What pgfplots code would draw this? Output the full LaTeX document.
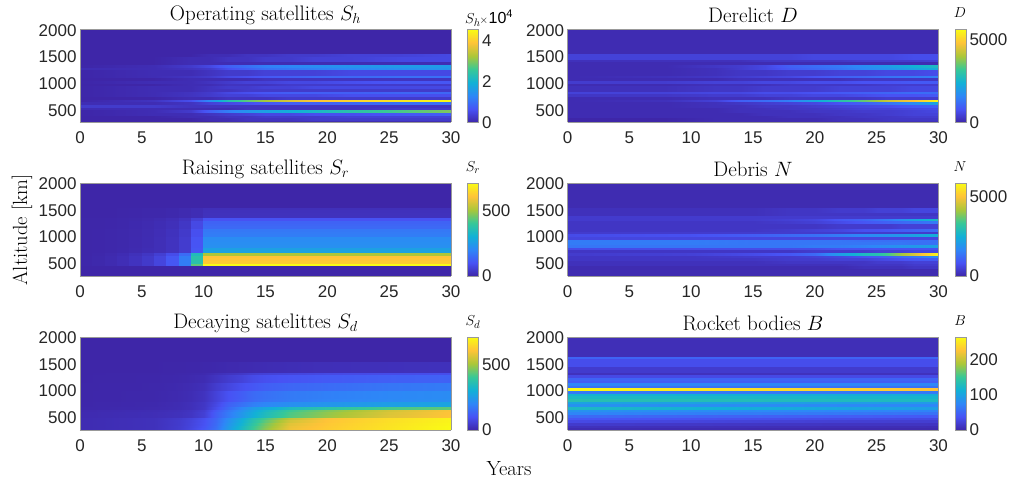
\documentclass[border=0pt]{standalone}
\usepackage{pgfplots}
\pgfplotsset{compat=1.18}
\usepackage{fontspec}
\newfontfamily\helv{Liberation Sans}
\pgfplotsset{
 colormap={parula}{rgb=(0.2422,0.1504,0.6603) rgb=(0.2810,0.3228,0.9579) rgb=(0.1786,0.5289,0.9682) rgb=(0.0689,0.6948,0.8394) rgb=(0.2161,0.7843,0.5923) rgb=(0.6720,0.7793,0.2227) rgb=(0.9970,0.7659,0.2199) rgb=(0.9769,0.9839,0.0805)},
 hm/.style={scale only axis,width=371pt,height=93pt,xmin=0,xmax=30,ymin=250,ymax=2000,anchor=south west,view={0}{90},
  xtick={0,5,...,30},ytick={500,1000,1500,2000},axis line style={draw=black!40,line width=.5pt},
  major tick length=0pt,tick label style={font=\fontsize{17}{17}\helv,text=black!85},
  /pgf/number format/assume math mode=true,/pgf/number format/1000 sep={},
  title style={font=\fontsize{21}{21}\selectfont,anchor=center,at={(0.5,1)},yshift=8pt},xticklabel style={yshift=-6pt},yticklabel style={yshift=-1pt},
  axis on top,colormap name=parula,
  colorbar,colorbar style={at={(1.0445,1)},anchor=north west,width=11pt,scale only axis,
    ymin=0,axis line style={draw=black!40},major tick length=0pt,
    tick label style={font=\fontsize{17}{17}\helv,text=black!85},
    /pgf/number format/assume math mode=true,/pgf/number format/1000 sep={},scaled ticks=false}},
}
% one line of data = one 50 km altitude band (250-300 first), one number per time column; each band is given two mesh rows
\newcommand\B[1]{\expandafter\def\expandafter\acc\expandafter{\acc#1#1}}
\def\ci#1{\numexpr\coordindex-#1*((2*\coordindex-#1+1)/(2*#1))\relax}
\def\hmplotB#1#2#3{\addplot3[surf,shader=interp,mesh/rows=70,mesh/cols=#2,point meta=explicit]
 table[row sep=crcr,header=false,x expr={\tT},y expr={\the\numexpr250+50*((2*((2*\coordindex-#2+1)/(2*#2))+1)/4)\relax},z expr={0},meta expr={\thisrowno{0}*#3}] {#1};}
\def\hmplot#1#2{\expandafter\hmplotB\expandafter{\acc}{#1}{#2}}
\def\lab#1#2#3{\node[anchor=center,font=\fontsize{15}{15}\selectfont] at (#1,#2) {#3};}
\begin{document}
\begin{tikzpicture}[x=1pt,y=1pt]
\path[use as bounding box] (0,0) rectangle (1010,485);
% Operating satellites
\begin{axis}[hm,at={(80pt,362.5pt)},title={Operating satellites $S_h$},point meta min=0,point meta max=45400,
 colorbar style={ytick={0,20000,40000},yticklabels={0,2,4}}]
\def\tT{\ifcase\ci{12} 0\or 6\or 9\or 10.5\or 12\or 13.5\or 15\or 17\or 19\or 22\or 26\or 30\fi}
\def\acc{}
\B{0\\0\\0\\0\\1\\1\\1\\1\\1\\1\\1\\1\\}
\B{0\\0\\0\\1\\1\\2\\2\\2\\3\\3\\3\\3\\}
\B{0\\0\\1\\1\\2\\2\\3\\3\\3\\4\\4\\4\\}
\B{0\\1\\1\\2\\3\\4\\5\\5\\6\\6\\7\\8\\}
\B{0\\1\\3\\8\\12\\15\\17\\19\\21\\24\\27\\30\\}
\B{1\\1\\1\\1\\1\\2\\2\\2\\2\\2\\3\\3\\}
\B{3\\3\\2\\2\\2\\2\\2\\2\\2\\2\\2\\2\\}
\B{1\\1\\2\\4\\5\\6\\7\\8\\8\\9\\10\\10\\}
\B{0\\2\\6\\14\\23\\28\\32\\36\\39\\41\\43\\45.4\\}
\B{0\\0\\1\\1\\2\\2\\2\\3\\3\\3\\3\\3\\}
\B{0\\1\\2\\3\\4\\4\\5\\5\\5\\6\\6\\6\\}
\B{0\\1\\2\\3\\5\\6\\7\\8\\8\\8\\9\\9\\}
\B{0\\1\\1\\2\\2\\3\\3\\3\\3\\3\\3\\3\\}
\B{0\\1\\1\\2\\3\\3\\4\\4\\5\\5\\5\\5\\}
\B{0\\0\\1\\1\\2\\2\\2\\3\\3\\3\\3\\3\\}
\B{0\\1\\1\\2\\3\\4\\4\\5\\5\\6\\7\\7\\}
\B{0\\0\\1\\1\\1\\1\\2\\2\\2\\2\\2\\2\\}
\B{0\\1\\2\\3\\5\\6\\7\\8\\9\\9\\10\\10\\}
\B{0\\1\\1\\2\\3\\3\\4\\4\\4\\5\\5\\5\\}
\B{0\\1\\1\\2\\3\\3\\4\\4\\4\\5\\5\\5\\}
\B{1\\1\\2\\3\\6\\8\\10\\11\\12\\13\\14\\15\\}
\B{0\\1\\3\\5\\8\\10\\12\\13\\14\\15\\16\\16\\}
\B{0\\0\\1\\1\\1\\1\\1\\1\\1\\1\\1\\1\\}
\B{0\\0\\1\\1\\2\\2\\3\\3\\4\\4\\5\\5\\}
\B{0\\0\\1\\1\\2\\2\\3\\3\\4\\4\\5\\5\\}
\B{0\\0\\0\\1\\1\\2\\2\\3\\3\\4\\4\\5\\}
\B{0\\0\\0\\0\\0\\0\\0\\0\\0\\0\\0\\0\\}
\B{0\\0\\0\\0\\0\\0\\0\\0\\0\\0\\0\\0\\}
\B{0\\0\\0\\0\\0\\0\\0\\0\\0\\0\\0\\0\\}
\B{0\\0\\0\\0\\0\\0\\0\\0\\0\\0\\0\\0\\}
\B{0\\0\\0\\0\\0\\0\\0\\0\\0\\0\\0\\0\\}
\B{0\\0\\0\\0\\0\\0\\0\\0\\0\\0\\0\\0\\}
\B{0\\0\\0\\0\\0\\0\\0\\0\\0\\0\\0\\0\\}
\B{0\\0\\0\\0\\0\\0\\0\\0\\0\\0\\0\\0\\}
\B{0\\0\\0\\0\\0\\0\\0\\0\\0\\0\\0\\0\\}
\hmplot{12}{1000}
\end{axis}
\node[anchor=west,inner sep=0pt,font=\fontsize{15}{15}\selectfont] at (465,467) {$S_h$\kern-1pt$\scriptstyle\times$\kern.5pt{\fontsize{16}{16}\helv 10}\raisebox{6pt}{\fontsize{11}{11}\helv 4}};
% Derelict
\begin{axis}[hm,at={(567.5pt,362.5pt)},title={Derelict $D$},point meta min=0,point meta max=5580,
 colorbar style={ytick={0,5000}}]
\def\tT{\ifcase\ci{12} 0\or 8\or 12\or 14\or 16\or 18\or 20\or 22\or 24\or 26\or 28\or 30\fi}
\def\acc{}
\B{0\\0\\1\\1\\1\\1\\1\\1\\2\\2\\2\\2\\}
\B{0\\0\\1\\1\\1\\1\\1\\2\\2\\3\\3\\3\\}
\B{1\\1\\1\\1\\1\\2\\2\\2\\3\\3\\4\\4\\}
\B{1\\1\\1\\1\\2\\2\\2\\3\\3\\4\\5\\5\\}
\B{1\\1\\1\\2\\2\\2\\3\\3\\4\\4\\5\\6\\}
\B{1\\1\\1\\2\\2\\3\\3\\4\\5\\5\\6\\7\\}
\B{1\\1\\2\\2\\3\\3\\4\\5\\6\\7\\9\\10\\}
\B{1\\1\\2\\3\\4\\5\\6\\8\\10\\13\\17\\22\\}
\B{1\\2\\5\\10\\12\\15\\22\\29\\35\\43\\48\\55.8\\}
\B{1\\1\\2\\2\\2\\3\\3\\3\\3\\4\\4\\4\\}
\B{3\\3\\4\\4\\5\\5\\6\\6\\7\\8\\8\\9\\}
\B{5\\5\\6\\6\\7\\7\\8\\9\\10\\11\\12\\12\\}
\B{2\\2\\3\\3\\4\\4\\4\\5\\5\\5\\6\\6\\}
\B{2\\2\\3\\3\\4\\4\\4\\5\\5\\5\\6\\6\\}
\B{1\\1\\2\\2\\2\\3\\3\\3\\3\\4\\4\\4\\}
\B{4\\4\\5\\5\\6\\6\\7\\7\\8\\8\\9\\9\\}
\B{1\\1\\1\\2\\2\\2\\2\\2\\3\\3\\3\\3\\}
\B{1\\2\\3\\4\\5\\6\\8\\10\\11\\13\\14\\15\\}
\B{1\\1\\2\\3\\3\\4\\4\\5\\5\\6\\6\\7\\}
\B{1\\1\\2\\3\\3\\4\\4\\5\\5\\6\\6\\7\\}
\B{1\\1\\2\\4\\6\\9\\11\\13\\16\\18\\21\\23\\}
\B{1\\1\\3\\4\\6\\10\\12\\14\\17\\20\\24\\27\\}
\B{1\\1\\1\\1\\1\\1\\1\\1\\1\\1\\1\\1\\}
\B{2\\2\\2\\2\\3\\3\\3\\3\\4\\4\\4\\5\\}
\B{5\\5\\5\\5\\5\\5\\6\\6\\6\\6\\7\\7\\}
\B{5\\5\\5\\5\\5\\5\\6\\6\\6\\6\\7\\7\\}
\B{1\\1\\1\\1\\1\\1\\1\\1\\1\\1\\1\\1\\}
\B{1\\1\\1\\1\\1\\1\\1\\1\\1\\1\\1\\1\\}
\B{1\\1\\1\\1\\1\\1\\1\\1\\1\\1\\1\\1\\}
\B{1\\1\\1\\1\\1\\1\\1\\1\\1\\1\\1\\1\\}
\B{1\\1\\1\\1\\1\\1\\1\\1\\1\\1\\1\\1\\}
\B{1\\1\\1\\1\\1\\1\\1\\1\\1\\1\\1\\1\\}
\B{1\\1\\1\\1\\1\\1\\1\\1\\1\\1\\1\\1\\}
\B{1\\1\\1\\1\\1\\1\\1\\1\\1\\1\\1\\1\\}
\B{1\\1\\1\\1\\1\\1\\1\\1\\1\\1\\1\\1\\}
\hmplot{12}{100}
\end{axis}
\lab{960}{472}{$D$}
% Raising satellites: yearly blocks, each value holds from its column's year to the next
\begin{axis}[hm,at={(80pt,209pt)},title={Raising satellites $S_r$},point meta min=0,point meta max=713,
 colorbar style={ytick={0,500}}]
\def\tT{\ifcase\ci{12} 0\or 1\or 2\or 3\or 4\or 5\or 6\or 7\or 8\or 9\or 10\or 30\fi}
\addplot3[surf,shader=flat corner,draw=none,mesh/rows=36,mesh/cols=12,point meta=explicit]
 table[row sep=crcr,header=false,x expr={\tT},y expr={\the\numexpr250+50*((2*\coordindex-11)/24)\relax},z expr={0},meta expr={\thisrowno{0}}]
 {0\\0\\0\\0\\0\\0\\0\\0\\0\\0\\0\\0\\
0\\0\\0\\0\\0\\0\\0\\0\\0\\0\\0\\0\\
0\\0\\0\\0\\0\\0\\0\\0\\0\\0\\0\\0\\
0\\0\\0\\0\\0\\0\\0\\0\\0\\0\\0\\0\\
2\\5\\10\\18\\30\\45\\70\\110\\185\\440\\713\\713\\
2\\5\\10\\18\\30\\45\\70\\110\\185\\375\\625\\625\\
2\\5\\10\\18\\30\\45\\70\\110\\185\\375\\615\\615\\
2\\5\\10\\18\\30\\45\\70\\110\\185\\375\\610\\610\\
1\\3\\8\\14\\24\\36\\56\\88\\150\\350\\510\\510\\
1\\2\\4\\6\\10\\15\\20\\30\\50\\110\\270\\270\\
1\\2\\4\\6\\10\\15\\20\\30\\50\\110\\265\\265\\
1\\2\\3\\5\\9\\13\\20\\30\\50\\105\\225\\225\\
1\\2\\3\\5\\9\\13\\20\\30\\50\\105\\220\\220\\
1\\2\\3\\5\\9\\13\\20\\30\\50\\105\\215\\215\\
1\\2\\3\\5\\9\\13\\20\\30\\50\\105\\215\\215\\
1\\2\\3\\5\\8\\12\\18\\28\\45\\95\\185\\185\\
1\\2\\3\\5\\8\\12\\18\\28\\45\\95\\180\\180\\
1\\2\\3\\5\\8\\12\\18\\28\\45\\95\\175\\175\\
1\\1\\2\\4\\7\\10\\15\\22\\38\\80\\145\\145\\
1\\1\\2\\4\\7\\10\\15\\22\\38\\80\\140\\140\\
1\\1\\2\\4\\7\\10\\15\\22\\38\\80\\135\\135\\
1\\1\\2\\3\\5\\8\\12\\18\\30\\60\\100\\100\\
0\\0\\0\\1\\2\\3\\4\\6\\10\\15\\28\\28\\
0\\0\\0\\1\\2\\3\\4\\6\\10\\15\\26\\26\\
0\\0\\0\\1\\2\\3\\4\\6\\10\\15\\25\\25\\
0\\0\\0\\1\\2\\3\\4\\6\\10\\15\\22\\22\\
0\\0\\0\\0\\0\\0\\0\\0\\0\\0\\0\\0\\
0\\0\\0\\0\\0\\0\\0\\0\\0\\0\\0\\0\\
0\\0\\0\\0\\0\\0\\0\\0\\0\\0\\0\\0\\
0\\0\\0\\0\\0\\0\\0\\0\\0\\0\\0\\0\\
0\\0\\0\\0\\0\\0\\0\\0\\0\\0\\0\\0\\
0\\0\\0\\0\\0\\0\\0\\0\\0\\0\\0\\0\\
0\\0\\0\\0\\0\\0\\0\\0\\0\\0\\0\\0\\
0\\0\\0\\0\\0\\0\\0\\0\\0\\0\\0\\0\\
0\\0\\0\\0\\0\\0\\0\\0\\0\\0\\0\\0\\
0\\0\\0\\0\\0\\0\\0\\0\\0\\0\\0\\0\\};
\end{axis}
\lab{473}{317}{$S_r$}
% Debris
\begin{axis}[hm,at={(567.5pt,209pt)},title={Debris $N$},point meta min=0,point meta max=5840,
 colorbar style={ytick={0,5000}}]
\def\tT{\ifcase\ci{12} 0\or 10\or 15\or 18\or 20\or 22\or 24\or 25\or 26\or 27\or 28\or 30\fi}
\def\acc{}
\B{1\\1\\1\\1\\1\\1\\1\\1\\1\\1\\1\\1\\}
\B{1\\1\\1\\1\\1\\1\\1\\1\\1\\1\\1\\1\\}
\B{1\\1\\1\\1\\1\\1\\1\\1\\1\\1\\1\\1\\}
\B{1\\1\\1\\1\\1\\1\\2\\2\\2\\2\\3\\3\\}
\B{2\\2\\2\\2\\2\\2\\3\\3\\3\\3\\4\\4\\}
\B{2\\2\\2\\3\\3\\3\\3\\4\\4\\4\\5\\5\\}
\B{3\\3\\3\\4\\4\\5\\5\\6\\7\\8\\9\\10\\}
\B{3\\3\\4\\4\\5\\6\\8\\9\\10\\12\\14\\18\\}
\B{4\\5\\7\\9\\12\\21\\28\\30\\35\\41\\46\\58.4\\}
\B{3\\3\\3\\3\\4\\4\\4\\5\\5\\5\\6\\6\\}
\B{7\\7\\7\\7\\7\\8\\8\\8\\8\\8\\8\\8\\}
\B{14\\14\\14\\14\\15\\15\\16\\17\\18\\19\\20\\22\\}
\B{15\\15\\14\\14\\14\\14\\14\\14\\14\\14\\13\\13\\}
\B{15\\15\\14\\14\\14\\14\\13\\13\\13\\13\\13\\13\\}
\B{6\\6\\6\\6\\6\\6\\6\\6\\6\\6\\6\\6\\}
\B{7\\8\\10\\12\\13\\15\\17\\18\\19\\20\\22\\25\\}
\B{4\\4\\4\\4\\4\\4\\4\\4\\4\\4\\4\\4\\}
\B{3\\3\\3\\4\\5\\6\\8\\8\\9\\10\\11\\13\\}
\B{3\\3\\3\\3\\3\\4\\4\\4\\4\\5\\5\\5\\}
\B{3\\3\\3\\3\\3\\4\\4\\4\\4\\5\\5\\5\\}
\B{3\\3\\3\\4\\5\\7\\9\\10\\11\\12\\13\\15\\}
\B{4\\4\\4\\5\\6\\9\\11\\13\\15\\18\\22\\28\\}
\B{4\\4\\4\\4\\4\\4\\4\\4\\4\\4\\4\\4\\}
\B{2\\2\\2\\3\\3\\3\\3\\3\\3\\3\\3\\3\\}
\B{2\\2\\2\\3\\3\\4\\4\\5\\5\\5\\6\\6\\}
\B{2\\2\\2\\3\\3\\4\\4\\5\\5\\5\\6\\6\\}
\B{1\\1\\1\\1\\1\\1\\1\\1\\1\\1\\1\\1\\}
\B{1\\1\\1\\1\\1\\1\\1\\1\\1\\1\\1\\1\\}
\B{1\\1\\1\\1\\1\\1\\1\\1\\1\\1\\1\\1\\}
\B{1\\1\\1\\1\\1\\1\\1\\1\\1\\1\\1\\1\\}
\B{1\\1\\1\\1\\1\\1\\1\\1\\1\\1\\1\\1\\}
\B{1\\1\\1\\1\\1\\1\\1\\1\\1\\1\\1\\1\\}
\B{1\\1\\1\\1\\1\\1\\1\\1\\1\\1\\1\\1\\}
\B{1\\1\\1\\1\\1\\1\\1\\1\\1\\1\\1\\1\\}
\B{1\\1\\1\\1\\1\\1\\1\\1\\1\\1\\1\\1\\}
\hmplot{12}{100}
\end{axis}
\lab{960}{318}{$N$}
% Decaying satellites
\begin{axis}[hm,at={(80pt,55pt)},title={Decaying satelittes $S_d$},point meta min=0,point meta max=711,
 colorbar style={ytick={0,500}}]
\def\tT{\ifcase\ci{14} 0\or 6\or 8\or 9\or 10\or 11\or 12\or 13\or 14\or 15\or 17\or 20\or 25\or 30\fi}
\def\acc{}
\B{12\\25\\50\\75\\110\\160\\250\\330\\410\\480\\590\\625\\670\\711\\}
\B{12\\25\\50\\72\\105\\155\\245\\325\\405\\470\\585\\622\\668\\711\\}
\B{12\\25\\48\\70\\100\\150\\235\\310\\390\\460\\575\\618\\665\\705\\}
\B{12\\25\\48\\68\\98\\145\\225\\300\\375\\440\\555\\612\\660\\700\\}
\B{12\\25\\45\\65\\95\\140\\215\\285\\360\\420\\535\\605\\655\\700\\}
\B{10\\18\\25\\35\\60\\125\\180\\240\\300\\350\\430\\490\\570\\612\\}
\B{10\\18\\25\\35\\60\\125\\180\\240\\295\\345\\425\\485\\565\\610\\}
\B{8\\15\\22\\32\\55\\115\\170\\225\\280\\330\\410\\470\\555\\605\\}
\B{3\\8\\15\\22\\40\\90\\145\\200\\250\\285\\340\\380\\420\\440\\}
\B{2\\6\\14\\22\\38\\80\\130\\160\\190\\205\\225\\240\\260\\275\\}
\B{2\\6\\14\\22\\38\\75\\125\\155\\185\\200\\220\\235\\255\\270\\}
\B{1\\4\\10\\16\\30\\65\\100\\125\\150\\165\\180\\195\\210\\220\\}
\B{1\\4\\10\\16\\30\\65\\100\\122\\148\\160\\178\\190\\205\\215\\}
\B{1\\4\\10\\16\\30\\65\\100\\122\\148\\160\\178\\190\\205\\215\\}
\B{1\\4\\10\\16\\30\\65\\100\\122\\148\\160\\178\\190\\205\\215\\}
\B{1\\3\\8\\13\\22\\50\\72\\95\\110\\125\\140\\150\\170\\180\\}
\B{1\\3\\8\\13\\22\\50\\72\\95\\110\\125\\140\\150\\170\\180\\}
\B{1\\3\\8\\13\\22\\50\\72\\95\\110\\125\\140\\150\\170\\180\\}
\B{0\\2\\5\\8\\14\\32\\50\\65\\85\\95\\105\\115\\125\\130\\}
\B{0\\2\\5\\8\\14\\32\\50\\65\\85\\95\\105\\115\\125\\130\\}
\B{0\\2\\5\\8\\14\\32\\50\\65\\85\\95\\105\\115\\125\\130\\}
\B{0\\1\\3\\5\\8\\20\\30\\40\\55\\62\\70\\80\\85\\90\\}
\B{0\\0\\1\\2\\3\\5\\8\\10\\12\\14\\17\\20\\23\\25\\}
\B{0\\0\\1\\2\\3\\5\\8\\10\\12\\14\\17\\20\\23\\25\\}
\B{0\\0\\1\\2\\3\\5\\8\\10\\12\\14\\17\\20\\23\\25\\}
\B{0\\0\\1\\2\\3\\5\\8\\10\\12\\14\\17\\20\\23\\25\\}
\B{0\\0\\0\\0\\0\\0\\0\\0\\0\\0\\0\\0\\0\\0\\}
\B{0\\0\\0\\0\\0\\0\\0\\0\\0\\0\\0\\0\\0\\0\\}
\B{0\\0\\0\\0\\0\\0\\0\\0\\0\\0\\0\\0\\0\\0\\}
\B{0\\0\\0\\0\\0\\0\\0\\0\\0\\0\\0\\0\\0\\0\\}
\B{0\\0\\0\\0\\0\\0\\0\\0\\0\\0\\0\\0\\0\\0\\}
\B{0\\0\\0\\0\\0\\0\\0\\0\\0\\0\\0\\0\\0\\0\\}
\B{0\\0\\0\\0\\0\\0\\0\\0\\0\\0\\0\\0\\0\\0\\}
\B{0\\0\\0\\0\\0\\0\\0\\0\\0\\0\\0\\0\\0\\0\\}
\B{0\\0\\0\\0\\0\\0\\0\\0\\0\\0\\0\\0\\0\\0\\}
\hmplot{14}{1}
\end{axis}
\lab{473}{163}{$S_d$}
% Rocket bodies
\begin{axis}[hm,at={(567.5pt,55pt)},title={Rocket bodies $B$},point meta min=0,point meta max=263,
 colorbar style={ytick={0,100,200}}]
\def\tT{\ifcase\ci{4} 0\or 10\or 20\or 30\fi}
\def\acc{}
\B{5\\4\\3\\3\\}
\B{10\\8\\7\\6\\}
\B{18\\15\\13\\12\\}
\B{30\\26\\22\\20\\}
\B{40\\36\\32\\28\\}
\B{55\\50\\46\\42\\}
\B{75\\70\\66\\60\\}
\B{85\\80\\76\\72\\}
\B{125\\115\\105\\95\\}
\B{85\\82\\78\\75\\}
\B{100\\98\\95\\92\\}
\B{135\\132\\128\\125\\}
\B{125\\123\\120\\118\\}
\B{115\\113\\110\\108\\}
\B{65\\65\\65\\65\\}
\B{263\\250\\238\\225\\}
\B{60\\60\\60\\60\\}
\B{75\\75\\75\\75\\}
\B{45\\45\\45\\45\\}
\B{50\\50\\50\\50\\}
\B{30\\30\\30\\30\\}
\B{10\\10\\10\\10\\}
\B{18\\18\\18\\18\\}
\B{18\\18\\18\\18\\}
\B{33\\33\\33\\33\\}
\B{33\\33\\33\\33\\}
\B{33\\33\\33\\33\\}
\B{50\\50\\50\\50\\}
\B{7\\7\\7\\7\\}
\B{7\\7\\7\\7\\}
\B{7\\7\\7\\7\\}
\B{7\\7\\7\\7\\}
\B{7\\7\\7\\7\\}
\B{7\\7\\7\\7\\}
\B{7\\7\\7\\7\\}
\hmplot{4}{1}
\end{axis}
\lab{960}{164}{$B$}
\node[rotate=90,font=\fontsize{20.5}{21}\selectfont] at (22,255) {Altitude [km]};
\node[font=\fontsize{20.5}{21}\selectfont] at (509,16) {Years};
\end{tikzpicture}
\end{document}
